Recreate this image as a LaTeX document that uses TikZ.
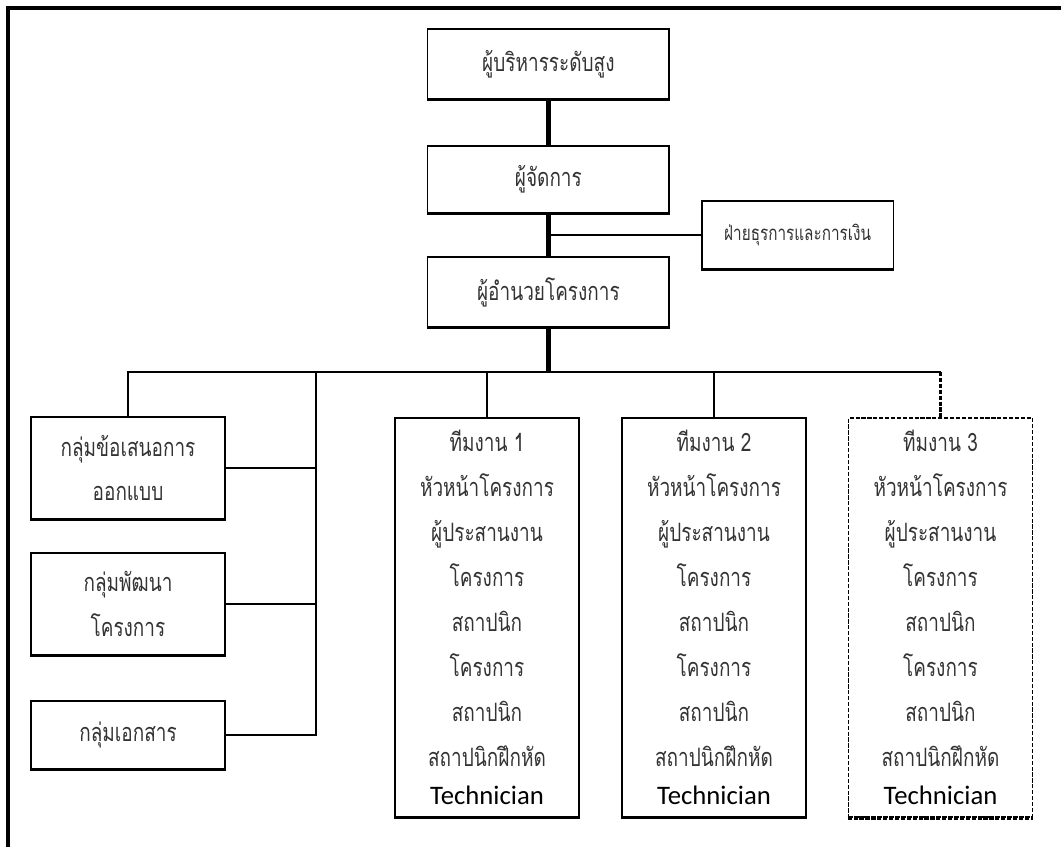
\documentclass[tikz,border=0pt]{standalone}
\usepackage{fontspec}
\usepackage{tikz}
\usetikzlibrary{positioning}
\newfontfamily\thaifont[Script=Thai,FakeStretch=0.75]{Loma}
\newfontfamily\latinfont{Carlito}

\newcommand{\teammembers}[1]{ทีมงาน #1\\หัวหน้าโครงการ\\ผู้ประสานงาน\\โครงการ\\สถาปนิก\\โครงการ\\สถาปนิก\\สถาปนิกฝึกหัด\\[-5pt]{\latinfont\fontsize{19}{29}\selectfont\color{black}Technician}}

\begin{document}
\begin{tikzpicture}[
    box/.style={draw, line width=0.9pt, align=center, inner sep=0pt, text=black!80,
      font=\thaifont\fontsize{18}{32}\selectfont,
      append after command={(\tikzlastnode.south west) edge[line width=2.4pt, #1] (\tikzlastnode.south east)}},
    box/.default=solid,
    link/.style={line width=2pt},
    trunk/.style={line width=3.2pt}]

  \useasboundingbox (0,0) rectangle (26.525,21.175);
  %Frame
  \draw [line width=2.8pt] (0.2,0) -- (0.2,20.975) -- (26.525,20.975);

  %Management
  \node [box, minimum width=6.03cm, minimum height=1.75cm] (ceo) at (13.71,19.575) {ผู้บริหารระดับสูง};
  \node [box, minimum width=6.03cm, minimum height=1.675cm] (manager) at (13.71,16.6875) {ผู้จัดการ};
  \node [box, minimum width=4.78cm, minimum height=1.7cm, font=\thaifont\fontsize{14.5}{32}\selectfont] (finance) at (19.94,15.3) {ฝ่ายธุรการและการเงิน};
  \node [box, minimum width=6.03cm, minimum height=1.75cm] (director) at (13.71,13.875) {ผู้อำนวยโครงการ};

  %Groups
  \node [box, minimum width=4.85cm, minimum height=2.55cm] (design) at (3.2,9.475) {กลุ่มข้อเสนอการ\\ออกแบบ};
  \node [box, minimum width=4.85cm, minimum height=2.55cm] (develop) at (3.2,6.075) {กลุ่มพัฒนา\\โครงการ};
  \node [box, minimum width=4.85cm, minimum height=1.7cm] (docs) at (3.2,2.8) {กลุ่มเอกสาร};

  %Teams
  \node [box, minimum width=4.6cm, minimum height=9.975cm] (team1) at (12.175,5.7375) {\teammembers{1}};
  \node [box, minimum width=4.6cm, minimum height=9.975cm] (team2) at (17.85,5.7375) {\teammembers{2}};
  \node [box={dash pattern=on 3pt off 1.2pt}, dash pattern=on 3pt off 1.2pt, line width=1.2pt,
    minimum width=4.6cm, minimum height=9.975cm] (team3) at (23.5125,5.7375) {\teammembers{3}};

  %Lines
  \coordinate (bus) at (13.71,11.875);
  \coordinate (spine) at (7.9,11.875);

  \draw [trunk] (ceo) -- (manager);
  \draw [trunk] (manager) -- (director);
  \draw [link] (finance.west) -- (finance.west -| manager.south);
  \draw [trunk] (director) -- (bus);

  \draw [link] (design.north) |- (team3.north |- bus);
  \draw [link] (team1.north |- bus) -- (team1.north);
  \draw [link] (team2.north |- bus) -- (team2.north);
  \draw [link, dash pattern=on 3pt off 1.2pt] (team3.north |- bus) -- (team3.north);

  \draw [link] (spine) |- (docs.east);
  \draw [link] (design.east) -- (design.east -| spine);
  \draw [link] (develop.east) -- (develop.east -| spine);
\end{tikzpicture}
\end{document}
